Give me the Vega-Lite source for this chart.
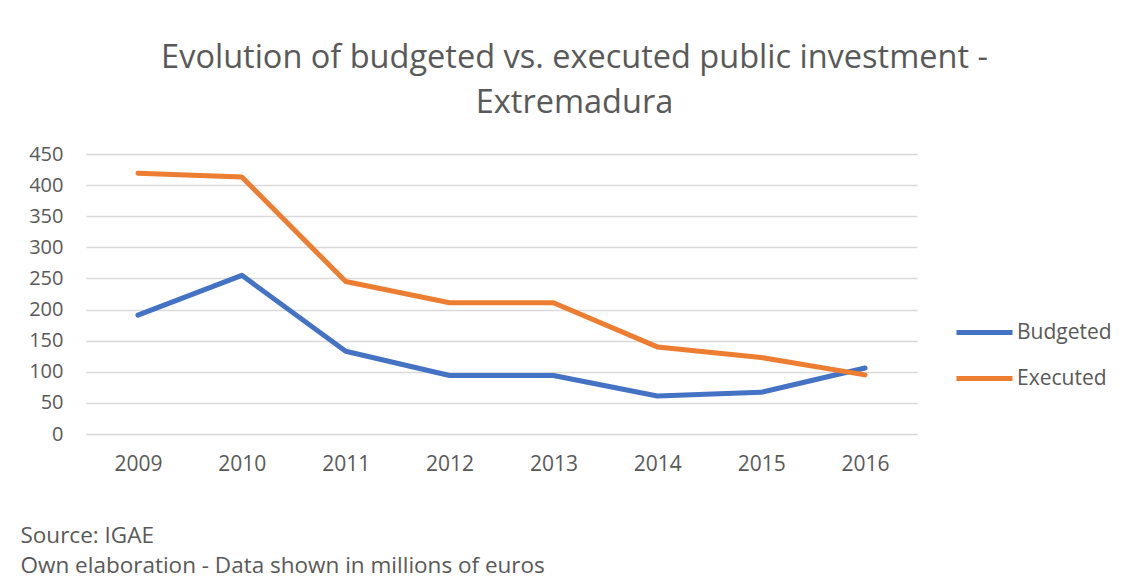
{
  "$schema": "https://vega.github.io/schema/vega-lite/v6.json",
  "width": 831,
  "height": 280,
  "autosize": {"type": "none"},
  "padding": {"left": 86, "top": 154, "right": 220, "bottom": 144},
  "background": "white",
  "title": {
    "text": ["Evolution of budgeted vs. executed public investment -", "Extremadura"],
    "font": "Open Sans",
    "fontSize": 32.5,
    "fontWeight": "normal",
    "color": "#595959",
    "lineHeight": 45,
    "anchor": "middle",
    "dx": 73,
    "offset": 25
  },
  "config": {
    "view": {"stroke": null},
    "font": "Open Sans"
  },
  "data": {
    "values": [
      {"year": "2009", "series": "Budgeted", "value": 191},
      {"year": "2010", "series": "Budgeted", "value": 255},
      {"year": "2011", "series": "Budgeted", "value": 133},
      {"year": "2012", "series": "Budgeted", "value": 94},
      {"year": "2013", "series": "Budgeted", "value": 94},
      {"year": "2014", "series": "Budgeted", "value": 61},
      {"year": "2015", "series": "Budgeted", "value": 67},
      {"year": "2016", "series": "Budgeted", "value": 106},
      {"year": "2009", "series": "Executed", "value": 419},
      {"year": "2010", "series": "Executed", "value": 413},
      {"year": "2011", "series": "Executed", "value": 245},
      {"year": "2012", "series": "Executed", "value": 211},
      {"year": "2013", "series": "Executed", "value": 211},
      {"year": "2014", "series": "Executed", "value": 140},
      {"year": "2015", "series": "Executed", "value": 123},
      {"year": "2016", "series": "Executed", "value": 95}
    ]
  },
  "mark": {"type": "line", "strokeWidth": 5, "strokeCap": "round", "strokeJoin": "round"},
  "encoding": {
    "x": {
      "field": "year",
      "type": "ordinal",
      "scale": {"type": "point", "padding": 0.5},
      "axis": {
        "labelAngle": 0,
        "labelFontSize": 21,
        "labelColor": "#595959",
        "labelFont": "Open Sans",
        "labelPadding": 19,
        "ticks": false,
        "domain": false,
        "grid": false,
        "title": ["Source: IGAE", "Own elaboration - Data shown in millions of euros"],
        "titleFont": "Open Sans",
        "titleFontSize": 22.5,
        "titleFontWeight": "normal",
        "titleColor": "#595959",
        "titleAnchor": "start",
        "titleAlign": "left",
        "titleBaseline": "alphabetic",
        "titleX": -66,
        "titleY": 108,
        "titleLineHeight": 30
      }
    },
    "y": {
      "field": "value",
      "type": "quantitative",
      "scale": {"domain": [0, 450], "nice": false},
      "axis": {
        "values": [0, 50, 100, 150, 200, 250, 300, 350, 400, 450],
        "labelFontSize": 20,
        "labelColor": "#595959",
        "labelFont": "Open Sans",
        "labelPadding": 23,
        "ticks": false,
        "domain": false,
        "gridColor": "#D9D9D9",
        "gridWidth": 1.5,
        "title": null
      }
    },
    "color": {
      "field": "series",
      "type": "nominal",
      "scale": {"domain": ["Budgeted", "Executed"], "range": ["#4472C4", "#ED7D31"]},
      "legend": {
        "title": null,
        "orient": "none",
        "legendX": 868,
        "legendY": 148,
        "symbolType": "stroke",
        "symbolSize": 3136,
        "symbolStrokeWidth": 5,
        "labelFontSize": 21,
        "labelColor": "#595959",
        "labelFont": "Open Sans",
        "labelOffset": 2,
        "rowPadding": 5
      }
    }
  }
}
